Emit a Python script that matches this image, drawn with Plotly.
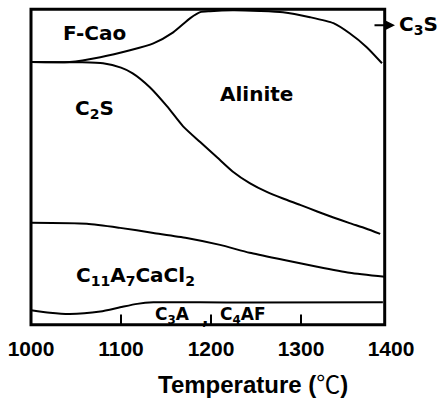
import plotly.graph_objects as go

# Phase boundaries vs. temperature (relative phase fraction, 0-100 from bottom)
temp_fcao = [1000, 1043, 1077, 1110, 1136, 1158, 1177, 1188, 1199, 1224, 1254, 1280, 1310, 1336, 1354, 1373, 1390]
frac_fcao = [83.3, 83.3, 84.8, 87.0, 89.2, 92.7, 97.2, 99.1, 99.4, 99.7, 99.5, 99.1, 97.5, 95.6, 92.4, 88.0, 82.9]

temp_c2s = [1000, 1054, 1080, 1100, 1113, 1132, 1151, 1169, 1188, 1207, 1224, 1243, 1262, 1280, 1299, 1318, 1336, 1354, 1372, 1388]
frac_c2s = [83.3, 83.2, 82.9, 81.5, 79.7, 75.3, 69.3, 62.9, 57.9, 53.0, 48.6, 44.9, 42.1, 40.0, 38.0, 35.9, 34.0, 32.2, 30.5, 28.8]

temp_c11 = [1000, 1062, 1099, 1136, 1173, 1210, 1243, 1280, 1318, 1354, 1393]
frac_c11 = [32.3, 32.0, 30.7, 29.1, 27.5, 25.3, 22.8, 20.6, 18.4, 16.5, 15.2]

temp_c3a = [1000, 1021, 1043, 1077, 1099, 1118, 1136, 1188, 1243, 1391]
frac_c3a = [4.6, 3.8, 3.4, 4.2, 5.5, 6.6, 7.1, 7.1, 7.0, 7.1]

tick_vals = [1000, 1100, 1200, 1300, 1400]
inner_ticks = [1100, 1200, 1300]
t_min, t_max = 1000, 1393

fig = go.Figure()
for xs, ys in [(temp_fcao, frac_fcao), (temp_c2s, frac_c2s),
               (temp_c11, frac_c11), (temp_c3a, frac_c3a)]:
    fig.add_trace(go.Scatter(x=xs, y=ys, mode="lines",
                             line=dict(color="black", width=2, shape="spline", smoothing=0.6),
                             hoverinfo="skip", showlegend=False))

# frame
fig.add_shape(type="rect", x0=t_min, x1=t_max, y0=0, y1=100,
              line=dict(color="black", width=3), layer="above")
# small ticks inside the frame
for t in inner_ticks:
    fig.add_shape(type="line", x0=t, x1=t, y0=0, y1=3.2,
                  line=dict(color="black", width=2))

lab = dict(family="DejaVu Sans", size=20, color="black", weight="bold")
small = dict(family="DejaVu Sans", size=17, color="black", weight="bold")

def label(text, x, y, font=lab):
    fig.add_annotation(x=x, y=y, text=text, showarrow=False, font=font,
                       xanchor="center", yanchor="middle")

label("F-Cao", 1071, 92.4)
label("C<sub>2</sub>S", 1071, 68.5)
label("Alinite", 1251, 73.1)
label("C<sub>11</sub>A<sub>7</sub>CaCl<sub>2</sub>", 1116, 15.5)
label("C<sub>3</sub>A", 1157, 2.9, small)
label(",", 1193, 2.0, small)
label("C<sub>4</sub>AF", 1235, 2.9, small)

# C3S beyond the frame
fig.add_annotation(xref="paper", yref="paper", x=(395 - 22) / 378, y=(331.32 - 25) / 328.64,
                   ax=-22, ay=0, text="", showarrow=True, arrowhead=2,
                   arrowsize=1.1, arrowwidth=2, arrowcolor="black")
fig.add_annotation(xref="paper", yref="paper", x=(418 - 22) / 378, y=(331.32 - 25) / 328.64,
                   text="C<sub>3</sub>S", showarrow=False, font=lab,
                   xanchor="center", yanchor="middle")

# axis title
fig.add_annotation(xref="paper", yref="paper", x=(253 - 22) / 378, y=(331.32 - 385) / 328.64,
                   text="Temperature (<span style=\"font-weight:normal\">℃</span>)",
                   showarrow=False, xanchor="center", yanchor="middle",
                   font=dict(family="Liberation Sans, Noto Sans CJK SC", size=24,
                             color="black", weight="bold"))

fig.update_layout(
    width=447, height=401,
    margin=dict(l=22, r=47, t=2.68, b=69.68, pad=0),
    plot_bgcolor="white", paper_bgcolor="white",
    xaxis=dict(range=[990, 1410], tickvals=tick_vals, ticks="", showgrid=False,
               zeroline=False, showline=False, ticklabelstandoff=3,
               tickfont=dict(family="Liberation Sans", size=21, color="black", weight="bold")),
    yaxis=dict(range=[-2, 102], visible=False, showgrid=False, zeroline=False),
)

fig.write_html("out.html")
